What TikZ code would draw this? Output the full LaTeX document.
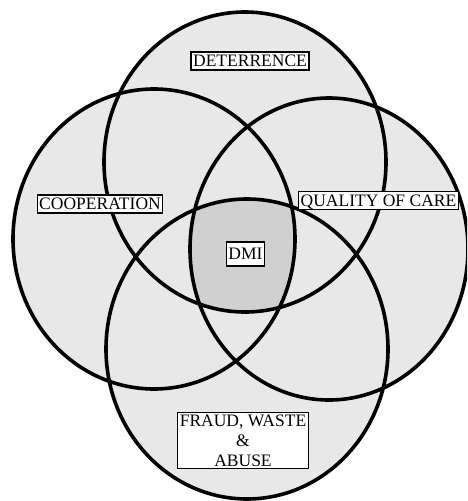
\documentclass[tikz,border=0pt]{standalone}
\usepackage{fontspec}
\setmainfont{Liberation Serif}
\definecolor{lightfill}{HTML}{E8E8E8}
\definecolor{dmifill}{HTML}{D0D0D0}
\tikzset{
  ring/.style={draw=black, line width=3.6pt},
  tag/.style={draw=black, fill=white, line width=1.3pt, inner xsep=2pt, inner ysep=3pt,
    font=\fontsize{17.5}{20}\selectfont, text height=11.8pt, text depth=0.3pt},
}
\begin{document}
\begin{tikzpicture}[x=1pt, y=-1pt]
\useasboundingbox (0,0) rectangle (467,501);
\begin{scope}
\clip (0,0) rectangle (467,501);
% fills
\fill[lightfill] (245,162) ellipse [x radius=141pt, y radius=150pt];
\fill[lightfill] (154,239) ellipse [x radius=141pt, y radius=150pt];
\fill[lightfill] (329,249) ellipse [x radius=139pt, y radius=151pt];
\fill[lightfill] (247,349) ellipse [x radius=141pt, y radius=150pt];
\begin{scope}
\clip (245,162) ellipse [x radius=141pt, y radius=150pt];
\clip (154,239) ellipse [x radius=141pt, y radius=150pt];
\clip (329,249) ellipse [x radius=139pt, y radius=151pt];
\fill[dmifill] (247,349) ellipse [x radius=141pt, y radius=150pt];
\end{scope}
% outlines
\draw[ring] (245,162) ellipse [x radius=141pt, y radius=150pt];
\draw[ring] (154,239) ellipse [x radius=141pt, y radius=150pt];
\draw[ring] (329,249) ellipse [x radius=139pt, y radius=151pt];
\draw[ring] (247,349) ellipse [x radius=141pt, y radius=150pt];
\end{scope}
% labels
\node[tag] (det) at (250,61) {DETERRENCE};
\node[tag] (coop) at (100,204) {COOPERATION};
\node[tag] (qoc) at (378.5,200.5) {QUALITY OF CARE};
\node[tag, inner ysep=6pt] (dmi) at (245.5,254) {DMI};
\node[tag, align=center, text height=, text depth=, inner ysep=2pt] (fwa) at (243,440.5) {FRAUD, WASTE\\\&\\ABUSE};
\end{tikzpicture}
\end{document}
